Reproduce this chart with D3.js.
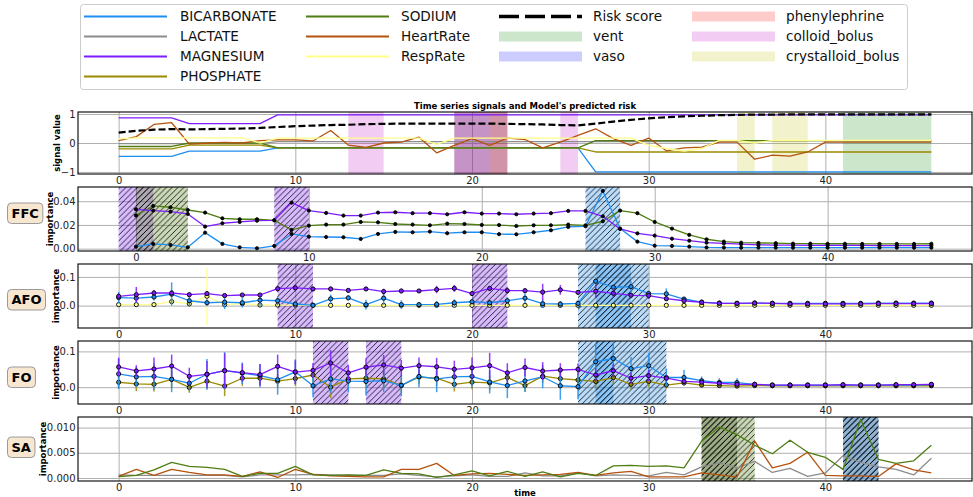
<!DOCTYPE html>
<html>
<head>
<meta charset="utf-8">
<script src="https://cdn.jsdelivr.net/npm/d3@7"></script>
<style>
  body { margin: 0; background: #fff; }
  svg { display: block; font-family: "DejaVu Sans", sans-serif; }
</style>
</head>
<body>
<svg id="chart" width="973" height="497"></svg>
<script>
// ---------- data ----------
const timeSteps = [0,1,2,3,4,5,6,7,8,9,10,11,12,13,14,15,16,17,18,19,20,21,22,23,24,25,26,27,28,29,30,31,32,33,34,35,36,37,38,39,40,41,42,43,44,45,46];
const xTicks = [0, 10, 20, 30, 40];

// normalised signals
const sigBICARBONATE = [-0.46,-0.46,-0.46,-0.46,-0.28,-0.28,-0.28,-0.28,-0.28,-0.17,-0.17,-0.17,-0.17,-0.17,-0.17,-0.17,-0.17,-0.17,-0.17,-0.17,-0.17,-0.17,-0.17,-0.17,-0.17,-0.17,-0.17,-1.0,-1.0,-1.0,-1.0,-1.0,-1.0,-1.0,-1.0,-1.0,-1.0,-1.0,-1.0,-1.0,-1.0,-1.0,-1.0,-1.0,-1.0,-1.0,-1.0];
const sigLACTATE = [-0.02,-0.02,-0.02,-0.02,-0.02,-0.02,-0.02,-0.02,-0.02,0.05,0.05,0.05,0.05,0.05,0.05,0.05,0.05,0.05,0.05,0.05,0.05,0.05,0.05,0.05,0.05,0.05,0.05,0.05,0.05,0.05,0.05,0.05,0.05,0.05,0.08,0.08,0.08,0.08,0.08,0.08,0.08,0.08,0.08,0.08,0.08,0.08,0.08];
const sigMAGNESIUM = [0.87,0.87,0.87,0.87,0.67,0.67,0.67,0.67,0.67,0.97,0.97,0.97,0.97,0.97,0.97,0.97,0.97,0.97,0.97,0.97,0.97,0.97,0.97,0.97,0.97,0.97,0.97,0.97,0.97,0.97,0.97,0.97,0.97,0.97,0.97,0.97,0.97,0.97,0.97,0.97,0.97,0.97,0.97,0.97,0.97,0.97,0.97];
const sigPHOSPHATE = [-0.2,-0.2,-0.2,-0.2,-0.07,-0.07,-0.07,-0.07,-0.07,-0.17,-0.17,-0.17,-0.17,-0.17,-0.17,-0.17,-0.17,-0.17,-0.17,-0.17,-0.17,-0.17,-0.17,-0.17,-0.17,-0.17,-0.17,-0.31,-0.31,-0.31,-0.31,-0.31,-0.31,-0.31,-0.31,-0.31,-0.31,-0.31,-0.31,-0.31,-0.31,-0.31,-0.31,-0.31,-0.31,-0.31,-0.31];
const sigSODIUM = [-0.12,-0.12,-0.12,-0.12,0.0,0.0,0.0,0.0,0.0,-0.17,-0.17,-0.17,-0.17,-0.17,-0.17,-0.17,-0.17,-0.17,-0.17,-0.17,-0.17,-0.17,-0.17,-0.17,-0.17,-0.17,-0.17,0.08,0.08,0.08,0.08,0.08,0.08,0.08,0.08,0.08,0.08,0.08,0.08,0.08,0.08,0.08,0.08,0.08,0.08,0.08,0.08];
const sigHeartRate = [0.08,0.22,0.64,0.70,-0.04,0.0,0.02,0.0,0.08,0.11,0.11,0.07,0.43,-0.07,-0.15,0.0,0.03,0.2,-0.34,-0.08,0.15,-0.08,0.17,0.12,-0.17,0.03,0.26,0.49,0.15,-0.08,0.17,-0.27,-0.17,-0.14,0.03,0.03,-0.56,-0.42,-0.45,-0.31,0.03,0.03,0.03,0.03,0.03,0.03,0.03];
const sigRespRate = [0.14,0.18,0.18,0.18,0.18,0.18,0.18,0.18,0.0,0.17,0.17,0.17,0.17,0.17,0.17,0.17,0.17,0.17,-0.05,0.17,0.17,0.17,0.17,0.17,0.17,0.17,0.17,0.17,0.17,0.17,-0.08,-0.19,-0.28,-0.19,0.09,0.09,0.0,0.09,0.09,0.09,0.09,0.09,0.09,0.09,0.09,0.09,0.09];
const riskScore = [0.36,0.42,0.46,0.48,0.47,0.48,0.49,0.50,0.52,0.55,0.58,0.60,0.62,0.63,0.65,0.66,0.67,0.67,0.67,0.67,0.67,0.67,0.66,0.65,0.64,0.62,0.61,0.67,0.74,0.80,0.85,0.89,0.92,0.94,0.96,0.97,0.98,0.98,0.99,0.99,0.99,0.99,0.99,0.99,0.99,0.99,0.99];

// treatment intervals [start, end]
const ventSpans = [[19, 22], [41, 46]];
const vasoSpans = [];
const phenylephrineSpans = [[21, 22]];
const colloidSpans = [[13, 15], [19, 22], [19, 21], [25, 26]];
const crystalloidSpans = [[35, 36], [37, 39]];

// FFC importance
const ffcMAGNESIUM = [0.0332,0.0321,0.0312,0.0293,0.0186,0.0214,0.0225,0.0236,0.0239,0.0388,0.0321,0.0301,0.0279,0.0279,0.0304,0.0307,0.0299,0.0299,0.0290,0.0307,0.0296,0.0296,0.0290,0.0296,0.0299,0.0318,0.0318,0.0273,0.0166,0.0129,0.0110,0.0084,0.0067,0.0050,0.0044,0.0038,0.0032,0.0030,0.0030,0.0028,0.0028,0.0027,0.0027,0.0026,0.0026,0.0026,0.0026];
const ffcSODIUM = [0.0280,0.0360,0.0349,0.0326,0.0304,0.0256,0.0248,0.0248,0.0239,0.0158,0.0194,0.0203,0.0203,0.0225,0.0222,0.0208,0.0203,0.0197,0.0211,0.0208,0.0200,0.0199,0.0191,0.0197,0.0197,0.0203,0.0197,0.0231,0.0321,0.0299,0.0225,0.0169,0.0116,0.0079,0.0059,0.0050,0.0048,0.0046,0.0042,0.0042,0.0041,0.0041,0.0040,0.0040,0.0040,0.0040,0.0041];
const ffcBICARBONATE = [0.0017,0.0040,0.0031,0.0011,0.0135,0.0040,0.0011,0.0003,0.0023,0.0124,0.0101,0.0098,0.0096,0.0082,0.0124,0.0141,0.0138,0.0144,0.0130,0.0138,0.0138,0.0122,0.0121,0.0138,0.0155,0.0183,0.0189,0.0487,0.0169,0.0059,0.0025,0.0023,0.0017,0.0010,0.0009,0.0008,0.0008,0.0008,0.0008,0.0008,0.0008,0.0008,0.0008,0.0008,0.0008,0.0008,0.0008];

// AFO importance and spread
const afoMAGNESIUM = [0.0325,0.038,0.044,0.044,0.038,0.042,0.035,0.037,0.037,0.059,0.062,0.058,0.058,0.053,0.058,0.049,0.051,0.051,0.056,0.060,0.042,0.060,0.052,0.052,0.047,0.055,0.046,0.050,0.043,0.036,0.035,0.024,0.017,0.011,0.008,0.008,0.009,0.008,0.006,0.006,0.006,0.006,0.006,0.007,0.007,0.007,0.007];
const afoMAGNESIUMErr = [0.010,0.027,0.010,0.010,0.006,0.008,0.006,0.006,0.006,0.012,0.013,0.008,0.008,0.008,0.006,0.010,0.008,0.006,0.013,0.012,0.006,0.009,0.012,0.008,0.029,0.017,0.006,0.024,0.015,0.010,0.012,0.008,0.006,0.003,0.003,0.003,0.003,0.003,0.003,0.003,0.003,0.003,0.003,0.003,0.003,0.003,0.003];
const afoBICARBONATE = [0.028,0.026,0.030,0.040,0.017,0.010,0.012,0.010,0.019,0.017,0.0056,0.001,0.0235,0.027,0.0035,0.026,0.0035,0.0035,0.0045,0.010,0.0135,0.010,0.017,0.026,0.0066,0.0056,0.0077,0.085,0.064,0.066,0.042,0.041,0.023,0.0125,0.009,0.008,0.009,0.008,0.008,0.008,0.008,0.008,0.008,0.009,0.009,0.009,0.009];
const afoBICARBONATEErr = [0.020,0.017,0.012,0.041,0.017,0.012,0.024,0.017,0.020,0.016,0.012,0.008,0.015,0.009,0.017,0.023,0.015,0.008,0.012,0.012,0.010,0.010,0.012,0.017,0.015,0.010,0.013,0.010,0.009,0.019,0.009,0.019,0.006,0.003,0.003,0.003,0.003,0.003,0.003,0.003,0.003,0.003,0.003,0.003,0.003,0.003,0.003];
const afoRespRate = [0.0035,0.0035,0.0035,0.014,0.006,0.0325,0.0035,0.007,0.002,0.002,0.002,0.001,0.001,0.001,0.001,0.001,0.001,0.001,0.001,0.001,0.001,0.001,0.001,0.001,0.001,0.001,0.001,0.001,0.001,0.001,0.001,0.001,0.001,0.001,0.001,0.001,0.001,0.001,0.001,0.001,0.001,0.001,0.001,0.001,0.001,0.001,0.001];
const afoRespRateErr = [0.002,0.002,0.002,0.020,0.002,0.100,0.002,0.010,0.002,0.002,0.002,0.002,0.002,0.002,0.002,0.002,0.002,0.002,0.002,0.002,0.002,0.002,0.002,0.002,0.002,0.002,0.002,0.002,0.002,0.002,0.002,0.002,0.002,0.002,0.002,0.002,0.002,0.002,0.002,0.002,0.002,0.002,0.002,0.002,0.002,0.002,0.002];

// FO importance and spread
const foMAGNESIUM = [0.0564,0.0453,0.0508,0.059,0.0304,0.036,0.046,0.0406,0.035,0.058,0.042,0.0467,0.0675,0.040,0.056,0.062,0.053,0.060,0.057,0.050,0.054,0.060,0.040,0.055,0.045,0.048,0.050,0.034,0.046,0.025,0.032,0.025,0.016,0.014,0.011,0.008,0.008,0.006,0.006,0.006,0.006,0.007,0.006,0.006,0.007,0.007,0.008];
const foMAGNESIUMErr = [0.026,0.016,0.032,0.032,0.024,0.037,0.049,0.025,0.030,0.033,0.033,0.021,0.036,0.021,0.025,0.028,0.023,0.023,0.025,0.024,0.029,0.036,0.027,0.025,0.025,0.019,0.016,0.019,0.019,0.016,0.016,0.009,0.009,0.006,0.005,0.003,0.003,0.003,0.003,0.003,0.003,0.003,0.003,0.003,0.003,0.003,0.003];
const foBICARBONATE = [0.037,0.0287,0.030,0.022,0.011,0.036,0.046,0.039,0.032,0.021,0.043,0.004,0.023,0.017,0.016,0.018,0.005,0.030,0.023,0.029,0.030,0.0145,0.0045,0.0175,0.029,0.004,0.0014,0.071,0.080,0.052,0.060,0.027,0.027,0.018,0.013,0.013,0.008,0.006,0.006,0.006,0.006,0.006,0.006,0.006,0.006,0.006,0.007];
const foBICARBONATEErr = [0.042,0.028,0.037,0.036,0.021,0.043,0.052,0.030,0.032,0.042,0.035,0.032,0.039,0.032,0.039,0.032,0.030,0.030,0.037,0.030,0.030,0.032,0.035,0.030,0.032,0.039,0.035,0.051,0.046,0.032,0.035,0.025,0.021,0.012,0.012,0.012,0.007,0.004,0.004,0.004,0.004,0.004,0.004,0.004,0.004,0.004,0.004];
const foPHOSPHATE = [0.0137,0.009,0.008,0.022,-0.0008,0.0167,0.0031,0.025,0.025,0.0167,0.024,0.034,0.000,0.023,0.025,0.023,0.005,0.028,0.025,0.008,0.014,0.012,0.027,0.0045,0.031,0.024,0.020,0.016,0.027,0.008,0.016,0.006,0.012,0.006,0.0045,0.003,0.0045,0.004,0.004,0.004,0.004,0.004,0.004,0.004,0.004,0.004,0.004];
const foPHOSPHATEErr = [0.018,0.020,0.020,0.024,0.015,0.022,0.028,0.022,0.020,0.020,0.020,0.025,0.030,0.025,0.020,0.025,0.020,0.020,0.022,0.020,0.020,0.020,0.020,0.018,0.020,0.018,0.018,0.020,0.020,0.015,0.015,0.010,0.008,0.006,0.004,0.004,0.004,0.004,0.004,0.004,0.004,0.004,0.004,0.004,0.004,0.004,0.004];

// SA importance
const saSODIUM = [0.00027,0.00053,0.0016,0.0031,0.0023,0.0021,0.0017,0.0003,0.0009,0.0009,0.0023,0.0006,0.0005,0.0006,0.0005,0.0016,0.0009,0.0008,0.0001,0.0006,0.0014,0.0004,0.0013,0.0003,0.0012,0.0002,0.0009,0.0005,0.0024,0.0025,0.0023,0.0024,0.0020,0.0073,0.0101,0.0086,0.0065,0.0048,0.0075,0.0051,0.0041,0.0017,0.0116,0.0037,0.0029,0.0034,0.0065];
const saHeartRate = [0.0003,0.0017,0.0005,0.0017,0.0011,0.0006,0.0006,0.0003,0.0012,0.0001,0.0017,0.0007,0.0004,0.0003,0.0002,0.0002,0.0017,0.0017,0.0029,0.0005,0.0008,0.0009,0.0007,0.0005,0.0006,0.0007,0.0011,0.0005,0.0010,0.0013,0.0002,0.0002,0.0002,0.0010,0.0006,0.0002,0.0073,0.0020,0.0029,0.0051,0.0005,0.0004,0.0004,0.0003,0.0028,0.0016,0.0010];
const saLACTATE = [0.0006,0.0005,0.0005,0.0005,0.0005,0.0005,0.0005,0.0002,0.0006,0.0006,0.0006,0.0007,0.0006,0.0005,0.0005,0.0005,0.0008,0.0005,0.0002,0.0004,0.0006,0.0003,0.0003,0.0010,0.0004,0.0004,0.0010,0.0004,0.0006,0.0005,0.0004,0.0011,0.0006,0.0022,0.0030,0.0020,0.0033,0.0011,0.0019,0.0003,0.0010,0.0044,0.0031,0.0022,0.0017,0.0006,0.0039];

// highlighted windows per method: [feature, start, end]
const ffcWindows = [["MAGNESIUM", -1, 1], ["SODIUM", 0, 3], ["MAGNESIUM", 8, 10], ["BICARBONATE", 26, 28]];
const afoWindows = [["MAGNESIUM", 9, 11], ["MAGNESIUM", 20, 22], ["BICARBONATE", 26, 29], ["BICARBONATE", 27, 30]];
const foWindows = [["MAGNESIUM", 11, 13], ["MAGNESIUM", 14, 16], ["BICARBONATE", 26, 28], ["BICARBONATE", 27, 31]];
const saWindows = [["SODIUM", 33, 36], ["SODIUM", 33, 35], ["LACTATE", 33, 35], ["LACTATE", 41, 43], ["LACTATE", 41, 43], ["BICARBONATE", 41, 43]];

// ---------- styles ----------
const featureColor = {
  BICARBONATE: "#1f8ef1",
  LACTATE: "#8c8c8c",
  MAGNESIUM: "#7f1cff",
  PHOSPHATE: "#9a8a00",
  SODIUM: "#4f7d12",
  HeartRate: "#b4520e",
  RespRate: "#ffff8a"
};
const spanColor = {
  vent: "#008000", vaso: "#0000ff", phenylephrine: "#ff0000",
  colloid_bolus: "#bf00bf", crystalloid_bolus: "#bfbf00"
};

const svg = d3.select("#chart");
const defs = svg.append("defs");
const hatch = defs.append("pattern").attr("id", "hatch")
  .attr("patternUnits", "userSpaceOnUse").attr("width", 5.8).attr("height", 5.8);
hatch.append("path").attr("d", "M-1,1 L1,-1 M0,5.8 L5.8,0 M4.8,6.8 L6.8,4.8")
  .attr("stroke", "#000").attr("stroke-width", 0.8);

const L = 78, R = 972;
const panels = {
  signal: { y0: 112, y1: 174, xd: [-2.3, 48.3], yd: [-1.07, 1.07], yt: [-1, 0, 1], fmt: d => d < 0 ? "\u2212" + Math.abs(d) : String(d), ylab: "signal value", ylx: 57 },
  ffc: { y0: 187, y1: 251, xd: [-3.35, 48.35], yd: [-0.002, 0.052], yt: [0, 0.02, 0.04], fmt: d3.format(".2f"), ylab: "importance", ylx: 50, tag: "FFC", tagY: 213 },
  afo: { y0: 264, y1: 328, xd: [-2.3, 48.3], yd: [-0.078, 0.145], yt: [0, 0.1], fmt: d3.format(".1f"), ylab: "importance", ylx: 56, tag: "AFO", tagY: 299.5 },
  fo:  { y0: 341, y1: 404, xd: [-2.3, 48.3], yd: [-0.047, 0.129], yt: [0, 0.1], fmt: d3.format(".1f"), ylab: "importance", ylx: 56, tag: "FO", tagY: 377 },
  sa:  { y0: 417, y1: 481, xd: [-2.3, 48.3], yd: [-0.0006, 0.0121], yt: [0, 0.005, 0.01], fmt: d3.format(".3f"), ylab: "importance", ylx: 43, tag: "SA", tagY: 447 }
};

function setupPanel(key) {
  const p = panels[key];
  p.x = d3.scaleLinear().domain(p.xd).range([L, R]);
  p.y = d3.scaleLinear().domain(p.yd).range([p.y1, p.y0]);
  const g = svg.append("g");
  defs.append("clipPath").attr("id", "clip-" + key)
    .append("rect").attr("x", L).attr("y", p.y0).attr("width", R - L).attr("height", p.y1 - p.y0);
  // grid
  const grid = g.append("g");
  grid.append("g").attr("transform", `translate(0,${p.y1})`)
    .call(d3.axisBottom(p.x).tickValues(xTicks).tickSize(-(p.y1 - p.y0)).tickFormat(""))
    .call(s => s.select(".domain").remove())
    .call(s => s.selectAll("line").attr("stroke", "#b0b0b0").attr("stroke-width", 1));
  grid.append("g").attr("transform", `translate(${L},0)`)
    .call(d3.axisLeft(p.y).tickValues(p.yt).tickSize(-(R - L)).tickFormat(""))
    .call(s => s.select(".domain").remove())
    .call(s => s.selectAll("line").attr("stroke", "#b0b0b0").attr("stroke-width", 1));
  p.plot = g.append("g").attr("clip-path", `url(#clip-${key})`);
  // tick labels
  g.append("g").attr("transform", `translate(0,${p.y1})`)
    .call(d3.axisBottom(p.x).tickValues(xTicks).tickSize(0).tickPadding(3).tickFormat(d3.format("d")))
    .call(s => s.select(".domain").remove())
    .call(s => s.selectAll("text").attr("font-size", 10).attr("fill", "#222").attr("font-family", "DejaVu Sans"));
  g.append("g").attr("transform", `translate(${L},0)`)
    .call(d3.axisLeft(p.y).tickValues(p.yt).tickSize(0).tickPadding(2.5).tickFormat(p.fmt))
    .call(s => s.select(".domain").remove())
    .call(s => s.selectAll("text").attr("font-size", 10).attr("fill", "#222").attr("font-family", "DejaVu Sans"));
  p.frameLayer = g;
  // y label
  g.append("text").attr("transform", `translate(${p.ylx},${(p.y0 + p.y1) / 2}) rotate(-90)`)
    .attr("text-anchor", "middle").attr("dy", "0.35em")
    .attr("font-size", 8.5).attr("font-weight", "bold").text(p.ylab);
  if (p.tag) {
    const tg = g.append("g");
    const t = tg.append("text").attr("font-size", 13).attr("font-weight", "bold")
      .attr("x", 0).attr("y", 0).attr("dy", "0.36em").text(p.tag);
    const w = t.node().getComputedTextLength();
    const cy = p.tagY;
    tg.insert("rect", "text").attr("x", 7.5).attr("y", cy - 10).attr("width", w + 8).attr("height", 20.5)
      .attr("rx", 4).attr("fill", "#f7e6d0").attr("stroke", "#9a9a9a").attr("stroke-width", 1);
    t.attr("x", 11.5).attr("y", cy);
  }
  return p;
}

function frame(p) {
  p.frameLayer.append("rect").attr("x", L).attr("y", p.y0).attr("width", R - L).attr("height", p.y1 - p.y0)
    .attr("fill", "none").attr("stroke", "#000").attr("stroke-width", 1.1);
}

function drawWindows(p, windows) {
  windows.forEach(([feat, s, e]) => {
    p.plot.append("rect").attr("x", p.x(s)).attr("y", p.y0).attr("width", p.x(e) - p.x(s)).attr("height", p.y1 - p.y0)
      .attr("fill", featureColor[feat]).attr("fill-opacity", 0.3);
    p.plot.append("rect").attr("x", p.x(s)).attr("y", p.y0).attr("width", p.x(e) - p.x(s)).attr("height", p.y1 - p.y0)
      .attr("fill", "url(#hatch)");
  });
}

function drawLine(p, values, color, width, dash) {
  const line = d3.line().x((d, i) => p.x(timeSteps[i])).y(d => p.y(d));
  const path = p.plot.append("path").datum(values).attr("d", line)
    .attr("fill", "none").attr("stroke", color).attr("stroke-width", width)
    .attr("stroke-linejoin", "round");
  if (dash) path.attr("stroke-dasharray", dash);
}

function drawErr(p, values, errs, color) {
  p.plot.append("g").selectAll("line").data(values).join("line")
    .attr("x1", (d, i) => p.x(timeSteps[i])).attr("x2", (d, i) => p.x(timeSteps[i]))
    .attr("y1", (d, i) => p.y(d - errs[i])).attr("y2", (d, i) => p.y(d + errs[i]))
    .attr("stroke", color).attr("stroke-width", 1.5).attr("opacity", 0.85);
}

function drawMarkers(p, values, fill, r) {
  p.plot.append("g").selectAll("circle").data(values).join("circle")
    .attr("cx", (d, i) => p.x(timeSteps[i])).attr("cy", d => p.y(d)).attr("r", r)
    .attr("fill", fill).attr("stroke", "#000").attr("stroke-width", 0.9);
}

// ---------- signals and risk ----------
const sigPanel = setupPanel("signal");
const spanSets = [["vent", ventSpans], ["vaso", vasoSpans], ["phenylephrine", phenylephrineSpans],
                  ["colloid_bolus", colloidSpans], ["crystalloid_bolus", crystalloidSpans]];
spanSets.forEach(([name, spans]) => spans.forEach(([s, e]) => {
  sigPanel.plot.append("rect").attr("x", sigPanel.x(s)).attr("y", sigPanel.y0).attr("width", sigPanel.x(e) - sigPanel.x(s))
    .attr("height", sigPanel.y1 - sigPanel.y0).attr("fill", spanColor[name]).attr("fill-opacity", 0.2);
}));
const signals = [["BICARBONATE", sigBICARBONATE], ["LACTATE", sigLACTATE], ["MAGNESIUM", sigMAGNESIUM],
                 ["PHOSPHATE", sigPHOSPHATE], ["SODIUM", sigSODIUM], ["HeartRate", sigHeartRate], ["RespRate", sigRespRate]];
signals.forEach(([name, vals]) => drawLine(sigPanel, vals, featureColor[name], 1.3));
drawLine(sigPanel, riskScore, "#000", 2.2, "7,3");
frame(sigPanel);
svg.append("text").attr("x", (L + R) / 2).attr("y", 109).attr("text-anchor", "middle")
  .attr("font-size", 8.5).attr("font-weight", "bold").text("Time series signals and Model's predicted risk");

// ---------- FFC ----------
const ffcPanel = setupPanel("ffc");
drawWindows(ffcPanel, ffcWindows);
[["BICARBONATE", ffcBICARBONATE], ["SODIUM", ffcSODIUM], ["MAGNESIUM", ffcMAGNESIUM]].forEach(([name, vals]) => {
  drawLine(ffcPanel, vals, featureColor[name], 1.3);
  drawMarkers(ffcPanel, vals, "#000", 1.6);
});
frame(ffcPanel);

// ---------- AFO ----------
const afoPanel = setupPanel("afo");
drawWindows(afoPanel, afoWindows);
[["RespRate", afoRespRate, afoRespRateErr], ["BICARBONATE", afoBICARBONATE, afoBICARBONATEErr], ["MAGNESIUM", afoMAGNESIUM, afoMAGNESIUMErr]]
  .forEach(([name, vals, errs]) => {
    drawErr(afoPanel, vals, errs, featureColor[name]);
    drawLine(afoPanel, vals, featureColor[name], 1.3);
    drawMarkers(afoPanel, vals, featureColor[name], 2.1);
  });
frame(afoPanel);

// ---------- FO ----------
const foPanel = setupPanel("fo");
drawWindows(foPanel, foWindows);
[["PHOSPHATE", foPHOSPHATE, foPHOSPHATEErr], ["BICARBONATE", foBICARBONATE, foBICARBONATEErr], ["MAGNESIUM", foMAGNESIUM, foMAGNESIUMErr]]
  .forEach(([name, vals, errs]) => {
    drawErr(foPanel, vals, errs, featureColor[name]);
    drawLine(foPanel, vals, featureColor[name], 1.3);
    drawMarkers(foPanel, vals, featureColor[name], 2.1);
  });
frame(foPanel);

// ---------- SA ----------
const saPanel = setupPanel("sa");
drawWindows(saPanel, saWindows);
[["LACTATE", saLACTATE], ["HeartRate", saHeartRate], ["SODIUM", saSODIUM]].forEach(([name, vals]) => {
  drawLine(saPanel, vals, featureColor[name], 1.3);
});
frame(saPanel);
svg.append("text").attr("x", (L + R) / 2).attr("y", 496).attr("text-anchor", "middle")
  .attr("font-size", 8.5).attr("font-weight", "bold").text("time");

// ---------- legend ----------
const legend = svg.append("g");
legend.append("rect").attr("x", 80.5).attr("y", 4.5).attr("width", 827).attr("height", 85)
  .attr("rx", 3).attr("fill", "#fff").attr("stroke", "#cccccc");
const rowY = [16.5, 36.5, 56.5, 76.5];
const legendCols = [
  { lx: 84, tx: 180, items: [["BICARBONATE", "line"], ["LACTATE", "line"], ["MAGNESIUM", "line"], ["PHOSPHATE", "line"]] },
  { lx: 306, tx: 401, items: [["SODIUM", "line"], ["HeartRate", "line"], ["RespRate", "line"]] },
  { lx: 499, tx: 593, items: [["Risk score", "dash"], ["vent", "patch"], ["vaso", "patch"]] },
  { lx: 692, tx: 786, items: [["phenylephrine", "patch"], ["colloid_bolus", "patch"], ["crystalloid_bolus", "patch"]] }
];
const handleW = 83;
legendCols.forEach(col => col.items.forEach(([name, kind], i) => {
  const y = rowY[i];
  if (kind === "line") {
    legend.append("line").attr("x1", col.lx).attr("x2", col.lx + handleW).attr("y1", y).attr("y2", y)
      .attr("stroke", featureColor[name]).attr("stroke-width", 2);
  } else if (kind === "dash") {
    legend.append("line").attr("x1", col.lx).attr("x2", col.lx + handleW).attr("y1", y).attr("y2", y)
      .attr("stroke", "#000").attr("stroke-width", 3.5).attr("stroke-dasharray", "20,6");
  } else {
    legend.append("rect").attr("x", col.lx).attr("y", y - 5).attr("width", handleW).attr("height", 10)
      .attr("fill", spanColor[name]).attr("fill-opacity", 0.2);
  }
  legend.append("text").attr("x", col.tx).attr("y", y).attr("dy", "0.36em")
    .attr("font-size", 13.6).attr("fill", "#111").text(name);
}));
</script>
</body>
</html>
